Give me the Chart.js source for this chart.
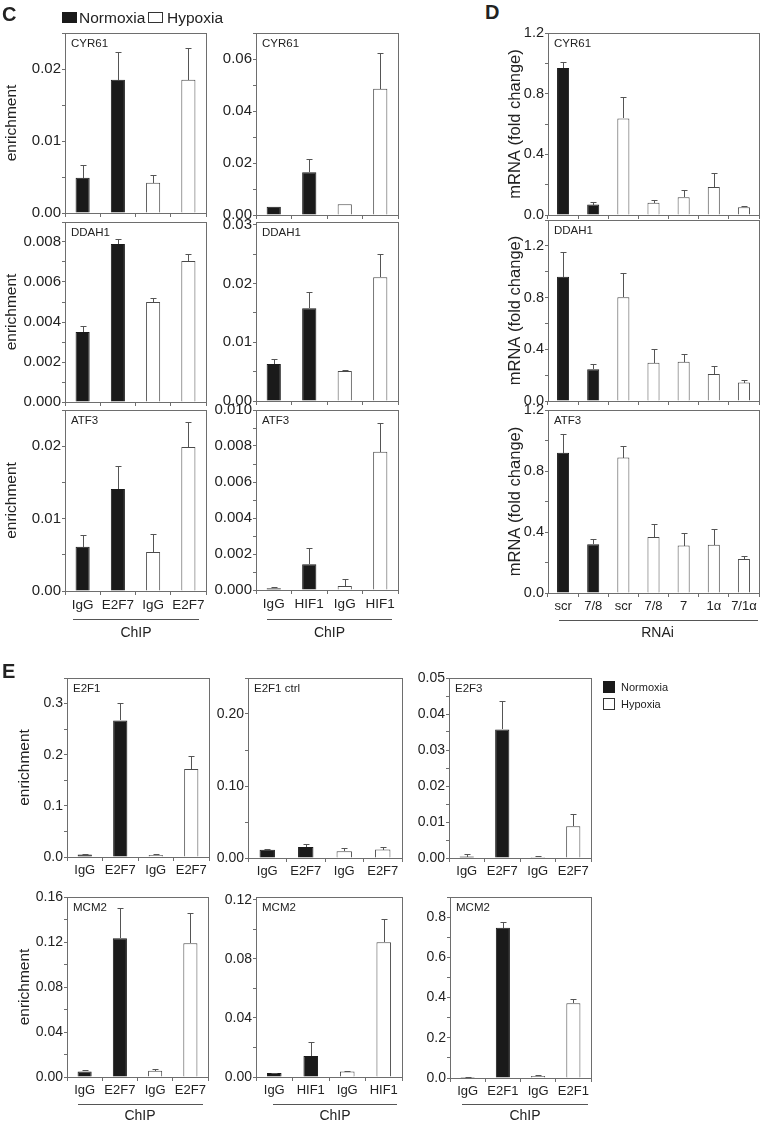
<!DOCTYPE html>
<html><head><meta charset="utf-8">
<script src="https://cdn.jsdelivr.net/npm/chart.js@4/dist/chart.umd.min.js"></script>
<style>
body{margin:0;background:#fff;width:762px;height:1124px;position:relative;overflow:hidden;font-family:"Liberation Sans",Arial,sans-serif;color:#222}
.box{position:absolute}
.lbl{position:absolute;white-space:nowrap;line-height:1}
.rule{position:absolute;height:0;border-top:1px solid #555}
.sq{position:absolute;box-sizing:border-box}
</style></head><body>
<script>
// ---------- categories ----------
const chipE2F7 = ['IgG','E2F7','IgG','E2F7'];
const chipHIF1 = ['IgG','HIF1','IgG','HIF1'];
const chipE2F1 = ['IgG','E2F1','IgG','E2F1'];
const rnaiTargets = ['scr','7/8','scr','7/8','7','1α','7/1α'];
const chipConditions = ['Normoxia','Normoxia','Hypoxia','Hypoxia'];
const rnaiConditions = ['Normoxia','Normoxia','Hypoxia','Hypoxia','Hypoxia','Hypoxia','Hypoxia'];

// ---------- panel C (ChIP enrichment) ----------
const cyr61E2F7 = [0.0049, 0.0185, 0.0042, 0.0185];
const cyr61E2F7Err = [0.0018, 0.0038, 0.0011, 0.0044];
const cyr61HIF1 = [0.0032, 0.0164, 0.0041, 0.0486];
const cyr61HIF1Err = [0, 0.0052, 0, 0.0137];
const ddah1E2F7 = [0.0035, 0.0079, 0.0050, 0.00705];
const ddah1E2F7Err = [0.0003, 0.00027, 0.00022, 0.00037];
const ddah1HIF1 = [0.0063, 0.0158, 0.0051, 0.0211];
const ddah1HIF1Err = [0.0009, 0.0027, 0.0001, 0.0039];
const atf3E2F7 = [0.0061, 0.0141, 0.0054, 0.0199];
const atf3E2F7Err = [0.0016, 0.0032, 0.0025, 0.0034];
const atf3HIF1 = [0.0001, 0.00143, 0.00022, 0.00768];
const atf3HIF1Err = [0.00004, 0.0009, 0.0004, 0.0016];

// ---------- panel D (RNAi, mRNA fold change) ----------
const cyr61Rnai = [0.97, 0.069, 0.637, 0.08, 0.117, 0.185, 0.051];
const cyr61RnaiErr = [0.04, 0.015, 0.14, 0.017, 0.05, 0.092, 0.007];
const ddah1Rnai = [0.962, 0.245, 0.803, 0.296, 0.304, 0.208, 0.143];
const ddah1RnaiErr = [0.19, 0.04, 0.185, 0.105, 0.058, 0.065, 0.018];
const atf3Rnai = [0.92, 0.319, 0.888, 0.367, 0.311, 0.317, 0.223];
const atf3RnaiErr = [0.125, 0.038, 0.079, 0.083, 0.08, 0.1, 0.018];

// ---------- panel E (ChIP enrichment) ----------
const e2f1E2F7 = [0.005, 0.267, 0.004, 0.172];
const e2f1E2F7Err = [0.001, 0.035, 0.001, 0.025];
const e2f1CtrlE2F7 = [0.0115, 0.0153, 0.0093, 0.0117];
const e2f1CtrlE2F7Err = [0.0015, 0.0047, 0.004, 0.0036];
const e2f3E2F7 = [0.0004, 0.0357, 0.0003, 0.0088];
const e2f3E2F7Err = [0.0006, 0.0078, 0.0002, 0.0035];
const mcm2E2F7 = [0.005, 0.1233, 0.0056, 0.119];
const mcm2E2F7Err = [0.0012, 0.0267, 0.0015, 0.0265];
const mcm2HIF1 = [0.0027, 0.0143, 0.0037, 0.0913];
const mcm2HIF1Err = [0.0003, 0.0095, 0.0004, 0.016];
const mcm2E2F1 = [0.005, 0.747, 0.01, 0.372];
const mcm2E2F1Err = [0.002, 0.027, 0.003, 0.02];

// ---------- rendering ----------
const FONT = '"Liberation Sans", Arial, sans-serif';
Chart.defaults.font.family = FONT;
Chart.defaults.color = '#222';

const framePlugin = {
  id: 'frame',
  afterDraw(chart, args, opts) {
    const {ctx, chartArea: a} = chart;
    ctx.save();
    ctx.strokeStyle = '#6e6e6e'; ctx.lineWidth = 1;
    ctx.strokeRect(Math.round(a.left) + 0.5, Math.round(a.top) + 0.5,
                   Math.round(a.right - a.left), Math.round(a.bottom - a.top));
    if (opts.text) {
      ctx.fillStyle = '#222';
      ctx.font = (opts.size || 11.5) + 'px ' + FONT;
      ctx.textBaseline = 'middle'; ctx.textAlign = 'left';
      ctx.fillText(opts.text, a.left + 6, a.top + 11);
    }
    ctx.restore();
  }
};
const errorPlugin = {
  id: 'errorBars',
  afterDatasetsDraw(chart) {
    const ctx = chart.ctx, y = chart.scales.y;
    ctx.save();
    ctx.strokeStyle = '#555'; ctx.lineWidth = 1;
    chart.data.datasets.forEach((ds, i) => {
      const meta = chart.getDatasetMeta(i);
      meta.data.forEach((bar, j) => {
        const v = ds.data[j], e = ds.errors ? ds.errors[j] : 0;
        if (v == null || !e) return;
        const top = Math.round(y.getPixelForValue(v + e)) + 0.5;
        const x = Math.round(bar.x) + 0.5;
        ctx.beginPath();
        ctx.moveTo(x, Math.round(bar.y)); ctx.lineTo(x, top);
        ctx.moveTo(x - 3, top); ctx.lineTo(x + 3, top);
        ctx.stroke();
      });
    });
    ctx.restore();
  }
};
Chart.register(framePlugin, errorPlugin);

const only = (arr, cond, which) => arr.map((v, i) => cond[i] === which ? v : null);

function makeChart(s) {
  const padTop = 12, xH = 30, padR = 3;
  const W = s.yW + (s.R - s.L) + padR;
  const H = padTop + (s.B - s.T) + xH;
  const div = document.createElement('div');
  div.className = 'box';
  div.style.left = (s.L - s.yW) + 'px'; div.style.top = (s.T - padTop) + 'px';
  div.style.width = W + 'px'; div.style.height = H + 'px';
  const cv = document.createElement('canvas');
  cv.width = W; cv.height = H; cv.style.width = W + 'px'; cv.style.height = H + 'px';
  div.appendChild(cv); document.body.appendChild(div);
  const isMult = (v, step) => Math.abs(v / step - Math.round(v / step)) < 1e-6;
  new Chart(cv, {
    type: 'bar',
    data: {
      labels: s.labels,
      datasets: [
        {label: 'Normoxia', data: only(s.values, s.cond, 'Normoxia'), errors: only(s.errors, s.cond, 'Normoxia'),
         backgroundColor: '#1a1a1a', borderColor: '#1a1a1a', borderWidth: 1, grouped: false,
         barPercentage: 0.4, categoryPercentage: 1},
        {label: 'Hypoxia', data: only(s.values, s.cond, 'Hypoxia'), errors: only(s.errors, s.cond, 'Hypoxia'),
         backgroundColor: '#ffffff', borderColor: '#4a4a4a', borderWidth: 1, grouped: false,
         barPercentage: 0.4, categoryPercentage: 1}
      ]
    },
    options: {
      responsive: false, animation: false, devicePixelRatio: 1,
      layout: {padding: {top: padTop, right: padR, left: 0, bottom: 0}},
      plugins: {legend: {display: false}, tooltip: {enabled: false}, frame: {text: s.gene, size: 11.5}},
      scales: {
        x: {
          grid: {drawOnChartArea: false, drawTicks: true, tickLength: 4, color: '#6e6e6e', offset: true},
          border: {display: false},
          ticks: {autoSkip: false, maxRotation: 0, padding: 2, color: '#222',
                  font: {size: s.xFont}, callback: (v, i) => s.showX ? s.labels[i] : ''},
          afterFit: sc => { sc.height = xH; }
        },
        y: {
          min: 0, max: s.max,
          grid: {drawOnChartArea: false, drawTicks: true, tickLength: 3, color: '#6e6e6e'},
          border: {display: false},
          ticks: {stepSize: s.minor, includeBounds: false, autoSkip: false, padding: 1, color: '#222',
                  font: {size: s.yFont},
                  callback: v => isMult(v, s.major) ? Number(v).toFixed(s.dec) : ''},
          afterBuildTicks: sc => { sc.ticks = sc.ticks.filter(t => isMult(t.value, s.minor)); },
          title: {display: !!s.title, text: s.title || '', color: '#222', padding: 0, font: {size: s.titleSize || 15.5}},
          afterFit: sc => { sc.width = s.yW; }
        }
      }
    }
  });
}

const specs = [
  // Panel C
  {L:65, R:206, T:33, B:213, yW:63, title:'enrichment', gene:'CYR61', labels:chipE2F7, cond:chipConditions, values:cyr61E2F7, errors:cyr61E2F7Err, max:0.025, major:0.01, minor:0.005, dec:2, showX:false, yFont:15, xFont:13.5},
  {L:256, R:398, T:33, B:215, yW:48, gene:'CYR61', labels:chipHIF1, cond:chipConditions, values:cyr61HIF1, errors:cyr61HIF1Err, max:0.07, major:0.02, minor:0.01, dec:2, showX:false, yFont:15, xFont:13.5},
  {L:65, R:206, T:222, B:402, yW:63, title:'enrichment', gene:'DDAH1', labels:chipE2F7, cond:chipConditions, values:ddah1E2F7, errors:ddah1E2F7Err, max:0.009, major:0.002, minor:0.001, dec:3, showX:false, yFont:15, xFont:13.5},
  {L:256, R:398, T:222, B:401, yW:48, gene:'DDAH1', labels:chipHIF1, cond:chipConditions, values:ddah1HIF1, errors:ddah1HIF1Err, max:0.0305, major:0.01, minor:0.005, dec:2, showX:false, yFont:15, xFont:13.5},
  {L:65, R:206, T:410, B:591, yW:63, title:'enrichment', gene:'ATF3', labels:chipE2F7, cond:chipConditions, values:atf3E2F7, errors:atf3E2F7Err, max:0.025, major:0.01, minor:0.005, dec:2, showX:true, yFont:15, xFont:13.5},
  {L:256, R:398, T:410, B:590, yW:48, gene:'ATF3', labels:chipHIF1, cond:chipConditions, values:atf3HIF1, errors:atf3HIF1Err, max:0.010, major:0.002, minor:0.001, dec:3, showX:true, yFont:15, xFont:13.5},
  // Panel D
  {L:548, R:759, T:33, B:215, yW:42, title:'mRNA (fold change)', titleSize:16.5, gene:'CYR61', labels:rnaiTargets, cond:rnaiConditions, values:cyr61Rnai, errors:cyr61RnaiErr, max:1.2, major:0.4, minor:0.2, dec:1, showX:false, yFont:14.5, xFont:13},
  {L:548, R:759, T:220, B:401, yW:42, title:'mRNA (fold change)', titleSize:16.5, gene:'DDAH1', labels:rnaiTargets, cond:rnaiConditions, values:ddah1Rnai, errors:ddah1RnaiErr, max:1.4, major:0.4, minor:0.2, dec:1, showX:false, yFont:14.5, xFont:13},
  {L:548, R:759, T:410, B:593, yW:42, title:'mRNA (fold change)', titleSize:16.5, gene:'ATF3', labels:rnaiTargets, cond:rnaiConditions, values:atf3Rnai, errors:atf3RnaiErr, max:1.2, major:0.4, minor:0.2, dec:1, showX:true, yFont:14.5, xFont:13},
  // Panel E
  {L:67, R:209, T:678, B:857, yW:52, title:'enrichment', gene:'E2F1', labels:chipE2F7, cond:chipConditions, values:e2f1E2F7, errors:e2f1E2F7Err, max:0.35, major:0.1, minor:0.05, dec:1, showX:true, yFont:14, xFont:13},
  {L:248, R:402, T:678, B:858, yW:48, gene:'E2F1 ctrl', labels:chipE2F7, cond:chipConditions, values:e2f1CtrlE2F7, errors:e2f1CtrlE2F7Err, max:0.25, major:0.1, minor:0.05, dec:2, showX:true, yFont:14, xFont:13},
  {L:449, R:591, T:678, B:858, yW:48, gene:'E2F3', labels:chipE2F7, cond:chipConditions, values:e2f3E2F7, errors:e2f3E2F7Err, max:0.05, major:0.01, minor:0.005, dec:2, showX:true, yFont:14, xFont:13},
  {L:67, R:208, T:897, B:1077, yW:52, title:'enrichment', gene:'MCM2', labels:chipE2F7, cond:chipConditions, values:mcm2E2F7, errors:mcm2E2F7Err, max:0.16, major:0.04, minor:0.02, dec:2, showX:true, yFont:14, xFont:13},
  {L:256, R:402, T:897, B:1077, yW:48, gene:'MCM2', labels:chipHIF1, cond:chipConditions, values:mcm2HIF1, errors:mcm2HIF1Err, max:0.122, major:0.04, minor:0.02, dec:2, showX:true, yFont:14, xFont:13},
  {L:450, R:591, T:897, B:1078, yW:48, gene:'MCM2', labels:chipE2F1, cond:chipConditions, values:mcm2E2F1, errors:mcm2E2F1Err, max:0.9, major:0.2, minor:0.1, dec:1, showX:true, yFont:14, xFont:13}
];
specs.forEach(makeChart);

// ---------- annotations (HTML text) ----------
function text(str, x, yc, size, opts = {}) {
  const d = document.createElement('div');
  d.className = 'lbl'; d.textContent = str;
  d.style.fontSize = size + 'px';
  d.style.top = (yc - size / 2) + 'px';
  if (opts.bold) d.style.fontWeight = 'bold';
  if (opts.center) { d.style.left = x + 'px'; d.style.transform = 'translateX(-50%)'; }
  else d.style.left = x + 'px';
  document.body.appendChild(d);
}
function rule(x, y, w) {
  const d = document.createElement('div'); d.className = 'rule';
  d.style.left = x + 'px'; d.style.top = y + 'px'; d.style.width = w + 'px';
  document.body.appendChild(d);
}
function square(x, y, w, h, fill) {
  const d = document.createElement('div'); d.className = 'sq';
  d.style.left = x + 'px'; d.style.top = y + 'px'; d.style.width = w + 'px'; d.style.height = h + 'px';
  d.style.background = fill; d.style.border = '1px solid ' + (fill === '#fff' ? '#333' : '#1a1a1a');
  document.body.appendChild(d);
}
text('C', 2, 14, 20, {bold: true});
text('D', 485, 12, 20, {bold: true});
text('E', 2, 670.5, 20, {bold: true});
square(62, 12, 15, 11, '#1a1a1a'); text('Normoxia', 79, 17.5, 15.5);
square(148, 12, 15, 11, '#fff'); text('Hypoxia', 167, 17.5, 15.5);
square(603, 681, 12, 12, '#1a1a1a'); text('Normoxia', 621, 687.5, 11);
square(603, 698, 12, 12, '#fff'); text('Hypoxia', 621, 704, 11);
rule(73, 619, 126); text('ChIP', 136, 632, 14, {center: true});
rule(267, 619, 125); text('ChIP', 329.5, 632, 14, {center: true});
rule(559, 620, 199); text('RNAi', 657.5, 632, 14, {center: true});
rule(78, 1104, 125); text('ChIP', 140, 1115, 14, {center: true});
rule(273, 1104, 124); text('ChIP', 335, 1115, 14, {center: true});
rule(462, 1104, 126); text('ChIP', 525, 1115, 14, {center: true});
</script>
</body></html>
